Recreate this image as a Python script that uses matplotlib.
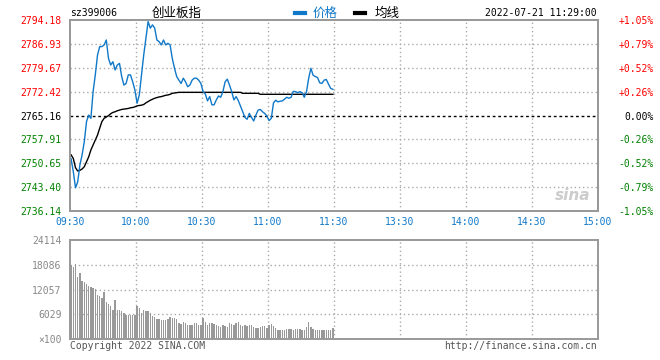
import numpy as np
import matplotlib
matplotlib.use("Agg")
import matplotlib.pyplot as plt

# ---- data ----
prev_close = 2765.16
price_levels = [2736.14, 2743.40, 2750.65, 2757.91, 2765.16, 2772.42, 2779.67, 2786.93, 2794.18]
pct_labels = ['-1.05%', '-0.79%', '-0.52%', '-0.26%', '0.00%', '+0.26%', '+0.52%', '+0.79%', '+1.05%']
time_labels = ['09:30', '10:00', '10:30', '11:00', '11:30', '13:30', '14:00', '14:30', '15:00']
vol_levels = [0, 6029, 12057, 18086, 24114]
vol_labels = ['\u00d7100', '6029', '12057', '18086', '24114']

price = [
    2752.0, 2748.1, 2743.2, 2745.0, 2750.1, 2753.2, 2757.2, 2763.3, 2765.3, 2764.3,
    2772.4, 2777.5, 2783.5, 2786.1, 2786.1, 2786.6, 2788.1, 2782.5, 2780.5, 2781.5,
    2779.0, 2780.5, 2781.0, 2777.0, 2774.4, 2774.9, 2777.5, 2777.5, 2775.4, 2772.9,
    2768.9, 2771.4, 2777.5, 2783.5, 2788.6, 2793.7, 2791.7, 2792.7, 2791.7, 2788.1,
    2787.6, 2786.6, 2788.1, 2786.6, 2787.1, 2786.6, 2782.5, 2779.5, 2777.0, 2775.9,
    2774.9, 2776.5, 2775.4, 2773.9, 2774.4, 2775.9, 2776.5, 2776.5, 2775.9, 2774.9,
    2772.4, 2771.7, 2769.6, 2770.9, 2768.4, 2768.4, 2769.9, 2771.1, 2770.7, 2772.4,
    2775.4, 2776.2, 2774.4, 2772.4, 2769.9, 2770.9, 2769.7, 2768.0, 2766.3, 2764.6,
    2764.0, 2765.8, 2764.6, 2763.5, 2765.3, 2766.8, 2767.0, 2766.3, 2765.8, 2765.0,
    2763.6, 2764.3, 2769.0, 2769.8, 2769.3, 2769.5, 2769.6, 2770.1, 2770.7, 2770.4,
    2770.7, 2772.5, 2772.4, 2772.1, 2772.4, 2772.1, 2770.7, 2772.4, 2776.5, 2779.5,
    2777.4, 2777.0, 2776.7, 2775.1, 2774.9, 2775.9, 2776.1, 2774.7, 2773.4, 2773.1,
]

avg_price = [
    2753.2, 2752.1, 2749.3, 2748.3, 2748.5, 2748.9, 2749.6, 2751.1, 2752.6, 2754.7,
    2756.2, 2757.7, 2759.2, 2761.3, 2763.3, 2764.3, 2764.7, 2765.1, 2765.7, 2766.1,
    2766.3, 2766.6, 2766.8, 2767.0, 2767.1, 2767.2, 2767.3, 2767.5, 2767.6, 2767.8,
    2768.1, 2768.2, 2768.3, 2768.5, 2769.0, 2769.4, 2769.8, 2770.1, 2770.4, 2770.6,
    2770.8, 2770.9, 2771.1, 2771.3, 2771.4, 2771.6, 2771.9, 2772.0, 2772.1, 2772.2,
    2772.2, 2772.2, 2772.2, 2772.2, 2772.2, 2772.2, 2772.2, 2772.2, 2772.2, 2772.2,
    2772.2, 2772.2, 2772.2, 2772.2, 2772.2, 2772.2, 2772.2, 2772.2, 2772.2, 2772.2,
    2772.2, 2772.2, 2772.2, 2772.2, 2772.2, 2772.2, 2772.2, 2772.2, 2771.9, 2771.9,
    2771.9, 2771.9, 2771.9, 2771.9, 2771.9, 2771.9, 2771.6, 2771.6, 2771.6, 2771.6,
    2771.6, 2771.6, 2771.6, 2771.6, 2771.6, 2771.6, 2771.6, 2771.6, 2771.6, 2771.6,
    2771.6, 2771.6, 2771.6, 2771.6, 2771.6, 2771.6, 2771.6, 2771.6, 2771.6, 2771.6,
    2771.6, 2771.6, 2771.6, 2771.6, 2771.6, 2771.6, 2771.6, 2771.6, 2771.6, 2771.6,
]

volume = [
    18040, 17640, 18280, 15210, 16020, 14240, 13830, 13430, 12940, 12780,
    12380, 12140, 10760, 10520, 9950, 11330, 8900, 8580, 8090, 7120,
    9550, 7120, 7120, 6720, 6310, 5900, 5900, 5900, 5900, 5900,
    8090, 7520, 6310, 7120, 6720, 6880, 6310, 5660, 5340, 4850,
    4850, 4690, 4690, 4690, 4850, 5340, 5100, 5100, 4850, 3880,
    3640, 4050, 3880, 3480, 3480, 3480, 3880, 3880, 3480, 3480,
    5100, 4050, 3480, 3880, 3880, 3720, 3480, 3070, 2910, 3480,
    3070, 2910, 3880, 3720, 3480, 3880, 4050, 3480, 3070, 3480,
    3070, 3480, 3480, 2910, 2670, 2670, 2910, 3240, 3070, 2750,
    3480, 3640, 3070, 2670, 2100, 2100, 2100, 2100, 2430, 2430,
    2430, 2100, 2430, 2430, 2430, 2270, 2100, 2910, 4050, 2910,
    2430, 2100, 2270, 2270, 2270, 2270, 2270, 2270, 2270, 2750,
]

minutes = np.arange(len(price)) + 0.5

# ---- style ----
BLUE = '#1078c8'
RED = '#ff0000'
GREEN = '#008000'
GRID = '#aaaaaa'
FRAME = '#999999'
MONO = 'DejaVu Sans Mono'
CJK = ['Noto Sans CJK SC', 'DejaVu Sans']
FS = 7


def level_color(v):
    if v > prev_close + 0.01:
        return RED
    if v < prev_close - 0.01:
        return GREEN
    return 'black'


fig = plt.figure(figsize=(6.6, 3.6), dpi=100)
fig.patch.set_facecolor('white')

# main price panel
ax = fig.add_axes([70/660, 1 - 211/360, 528/660, 191/360])
ax.set_xlim(0, 240)
ax.set_ylim(price_levels[0], price_levels[-1])
for y in price_levels[1:-1]:
    if y == prev_close:
        ax.axhline(y, color='black', lw=1.0, ls=(0, (2, 2)), zorder=1)
    else:
        ax.axhline(y, color=GRID, lw=1.0, ls=(0, (1, 2)), zorder=1)
for x in range(30, 240, 30):
    ax.axvline(x, color=GRID, lw=1.0, ls=(0, (1, 2)), zorder=1)

ax.plot(minutes, avg_price, color='black', lw=1.0, zorder=3)
ax.plot(minutes, price, color=BLUE, lw=1.0, zorder=4)

ax.set_yticks(price_levels)
ax.set_yticklabels(['%.2f' % v for v in price_levels], fontfamily=MONO, fontsize=FS)
for lab, v in zip(ax.get_yticklabels(), price_levels):
    lab.set_color(level_color(v))
ax.set_xticks(range(0, 241, 30))
ax.set_xticklabels(time_labels, fontfamily=MONO, fontsize=FS, color=BLUE)
ax.tick_params(length=0, pad=6)
ax.tick_params(axis='x', pad=4)

axr = ax.twinx()
axr.set_ylim(price_levels[0], price_levels[-1])
axr.set_yticks(price_levels)
axr.set_yticklabels(pct_labels, fontfamily=MONO, fontsize=FS)
for lab, v in zip(axr.get_yticklabels(), price_levels):
    lab.set_color(level_color(v))
    lab.set_horizontalalignment('right')
axr.tick_params(length=0, pad=40)

for a in (ax, axr):
    for s in a.spines.values():
        s.set_color(FRAME)
        s.set_linewidth(1.4)

# header texts
fig.text(70/660, 1 - 13/360, 'sz399006', fontfamily=MONO, fontsize=FS, va='center', ha='left')
fig.text(177/660, 1 - 13/360, '创业板指', family=CJK, fontsize=9, va='center', ha='center')
fig.lines.append(plt.Line2D([295/660, 305/660], [1 - 13/360] * 2, color=BLUE, lw=3,
                            transform=fig.transFigure))
fig.text(313/660, 1 - 13/360, '价格', family=CJK, fontsize=9, color=BLUE, va='center', ha='left')
fig.lines.append(plt.Line2D([355/660, 365/660], [1 - 13/360] * 2, color='black', lw=3,
                            transform=fig.transFigure))
fig.text(375/660, 1 - 13/360, '均线', family=CJK, fontsize=9, va='center', ha='left')
fig.text(597/660, 1 - 13/360, '2022-07-21 11:29:00', fontfamily=MONO, fontsize=FS,
         va='center', ha='right')

# watermark
ax.text(0.985, 0.04, 'sina', transform=ax.transAxes, ha='right', va='bottom', fontsize=11,
        fontweight='bold', fontstyle='italic', color='#cccccc', zorder=2)

# volume panel
axv = fig.add_axes([70/660, 1 - 339/360, 528/660, 99/360])
axv.set_xlim(0, 240)
axv.set_ylim(0, vol_levels[-1])
for y in vol_levels[1:-1]:
    axv.axhline(y, color=GRID, lw=1.0, ls=(0, (1, 2)), zorder=1)
for x in range(30, 240, 30):
    axv.axvline(x, color=GRID, lw=1.0, ls=(0, (1, 2)), zorder=1)
axv.bar(minutes, volume, width=0.55, color='#999999', linewidth=0, zorder=2)
axv.set_xticks([])
axv.set_yticks(vol_levels)
axv.set_yticklabels(vol_labels, fontfamily=MONO, fontsize=FS, color='#888888')
axv.tick_params(length=0, pad=6)
for s in axv.spines.values():
    s.set_color(FRAME)
    s.set_linewidth(1.4)

fig.text(70/660, 1 - 346/360, 'Copyright 2022 SINA.COM', fontfamily=MONO, fontsize=FS,
         color='#555555', va='center', ha='left')
fig.text(597/660, 1 - 346/360, 'http://finance.sina.com.cn', fontfamily=MONO, fontsize=FS,
         color='#555555', va='center', ha='right')

fig.savefig('out.png', dpi=100, facecolor='white')
